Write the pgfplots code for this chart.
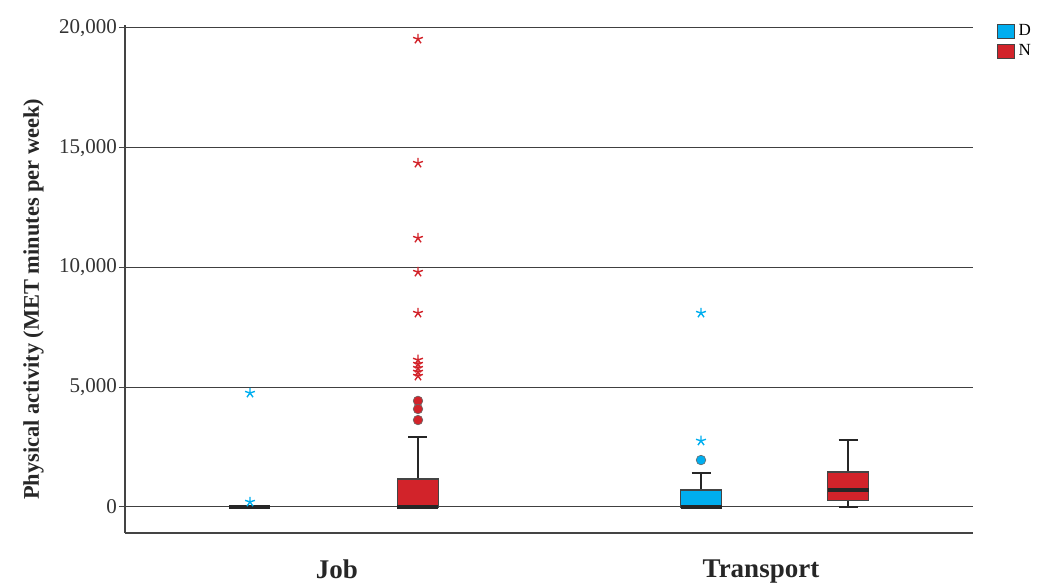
\documentclass[border=0pt]{standalone}
\usepackage{fontspec}
\setmainfont{Liberation Serif}
\usepackage{pgfplots}
\pgfplotsset{compat=1.18}
\definecolor{dblue}{HTML}{00AEEF}
\definecolor{nred}{HTML}{D2232A}
\definecolor{edge}{HTML}{444444}
\begin{document}
\begin{tikzpicture}
\begin{axis}[
  scale only axis, width=424pt, height=254pt,
  xmin=0, xmax=8.48, ymin=-1086, ymax=20125,
  axis x line*=bottom, axis y line*=left,
  axis line style={draw=edge, line width=1pt},
  xtick={2.12,6.36}, xticklabels={Job,Transport},
  xtick style={draw=none},
  xticklabel style={font=\fontsize{13.5}{15}\selectfont\bfseries, yshift=-7pt, text=black!85},
  ytick={0,5000,10000,15000,20000},
  ymajorgrids, grid style={draw=black!75, line width=0.5pt},
  yticklabel style={font=\fontsize{10.5}{12}\selectfont, text=black!80, xshift=2.5pt},
  /pgf/number format/assume math mode=true,
  /pgf/number format/1000 sep={,},
  scaled y ticks=false,
  tick align=outside, major tick length=3pt,
  ytick style={draw=edge, line width=0.5pt},
  ylabel={Physical activity (MET minutes per week)},
  ylabel style={font=\fontsize{11.2}{13}\selectfont\bfseries, at={(axis description cs:-0.108,0.46)}, anchor=center, text=black!85},
  legend style={at={(axis description cs:1.028,1.01)}, anchor=north west, draw=none, fill=none,
    font=\fontsize{8.5}{10}\selectfont, row sep=-1pt, inner sep=0pt,
    /tikz/every odd column/.append style={column sep=0pt}},
  legend cell align=left,
  clip=false,
]
\addlegendimage{legend image code/.code={\draw[fill=dblue, draw=edge, line width=0.5pt] (0pt,-3.6pt) rectangle (8.2pt,3.6pt);}}
\addlegendentry{D}
\addlegendimage{legend image code/.code={\draw[fill=nred, draw=edge, line width=0.5pt] (0pt,-3.6pt) rectangle (8.2pt,3.6pt);}}
\addlegendentry{N}

% whiskers
\addplot[draw=black!85, line width=0.6pt, forget plot] coordinates {(2.93,1170) (2.93,2920)};
\addplot[draw=black!85, line width=0.6pt, forget plot] coordinates {(2.835,2920) (3.025,2920)};
\addplot[draw=black!85, line width=0.6pt, forget plot] coordinates {(5.76,710) (5.76,1420)};
\addplot[draw=black!85, line width=0.6pt, forget plot] coordinates {(5.665,1420) (5.855,1420)};
\addplot[draw=black!85, line width=0.6pt, forget plot] coordinates {(7.23,0) (7.23,2800)};
\addplot[draw=black!85, line width=0.6pt, forget plot] coordinates {(7.135,2800) (7.325,2800)};
\addplot[draw=black!85, line width=1.2pt, forget plot] coordinates {(7.135,0) (7.325,0)};

% boxes
\addplot[fill=nred, draw=edge, line width=0.6pt, forget plot] coordinates {(2.725,0) (3.135,0) (3.135,1170) (2.725,1170)} --cycle;
\addplot[fill=dblue, draw=edge, line width=0.6pt, forget plot] coordinates {(5.555,0) (5.965,0) (5.965,710) (5.555,710)} --cycle;
\addplot[fill=nred, draw=edge, line width=0.6pt, forget plot] coordinates {(7.025,260) (7.435,260) (7.435,1460) (7.025,1460)} --cycle;

% medians
\addplot[draw=black!85, line width=1.6pt, forget plot] coordinates {(1.045,0) (1.455,0)};
\addplot[draw=black!85, line width=1.6pt, forget plot] coordinates {(2.725,0) (3.135,0)};
\addplot[draw=black!85, line width=1.6pt, forget plot] coordinates {(5.555,0) (5.965,0)};
\addplot[draw=black!85, line width=1.6pt, forget plot] coordinates {(7.025,710) (7.435,710)};

% outliers: circles
\addplot[only marks, mark=*, mark size=2.4pt, mark options={fill=nred, draw=black!60, line width=0.3pt}, forget plot] coordinates {(2.93,4430) (2.93,4090) (2.93,3630)};
\addplot[only marks, mark=*, mark size=2.4pt, mark options={fill=dblue, draw=black!60, line width=0.3pt}, forget plot] coordinates {(5.76,1960)};
% outliers: stars
\addplot[only marks, mark=star, mark size=2.6pt, mark options={draw=nred, line width=0.7pt}, forget plot] coordinates {(2.93,19540) (2.93,14360) (2.93,11230) (2.93,9810) (2.93,8100) (2.93,6140) (2.93,5970) (2.93,5800) (2.93,5640) (2.93,5470)};
\addplot[only marks, mark=star, mark size=2.6pt, mark options={draw=dblue, line width=0.7pt}, forget plot] coordinates {(1.25,4760) (1.25,210) (5.76,2760) (5.76,8100)};
\end{axis}
\pgfresetboundingbox
\path[use as bounding box] ([shift={(-62.5pt,-27.5pt)}]current axis.south west) rectangle ([shift={(34pt,12.5pt)}]current axis.north east);
\end{tikzpicture}
\end{document}
